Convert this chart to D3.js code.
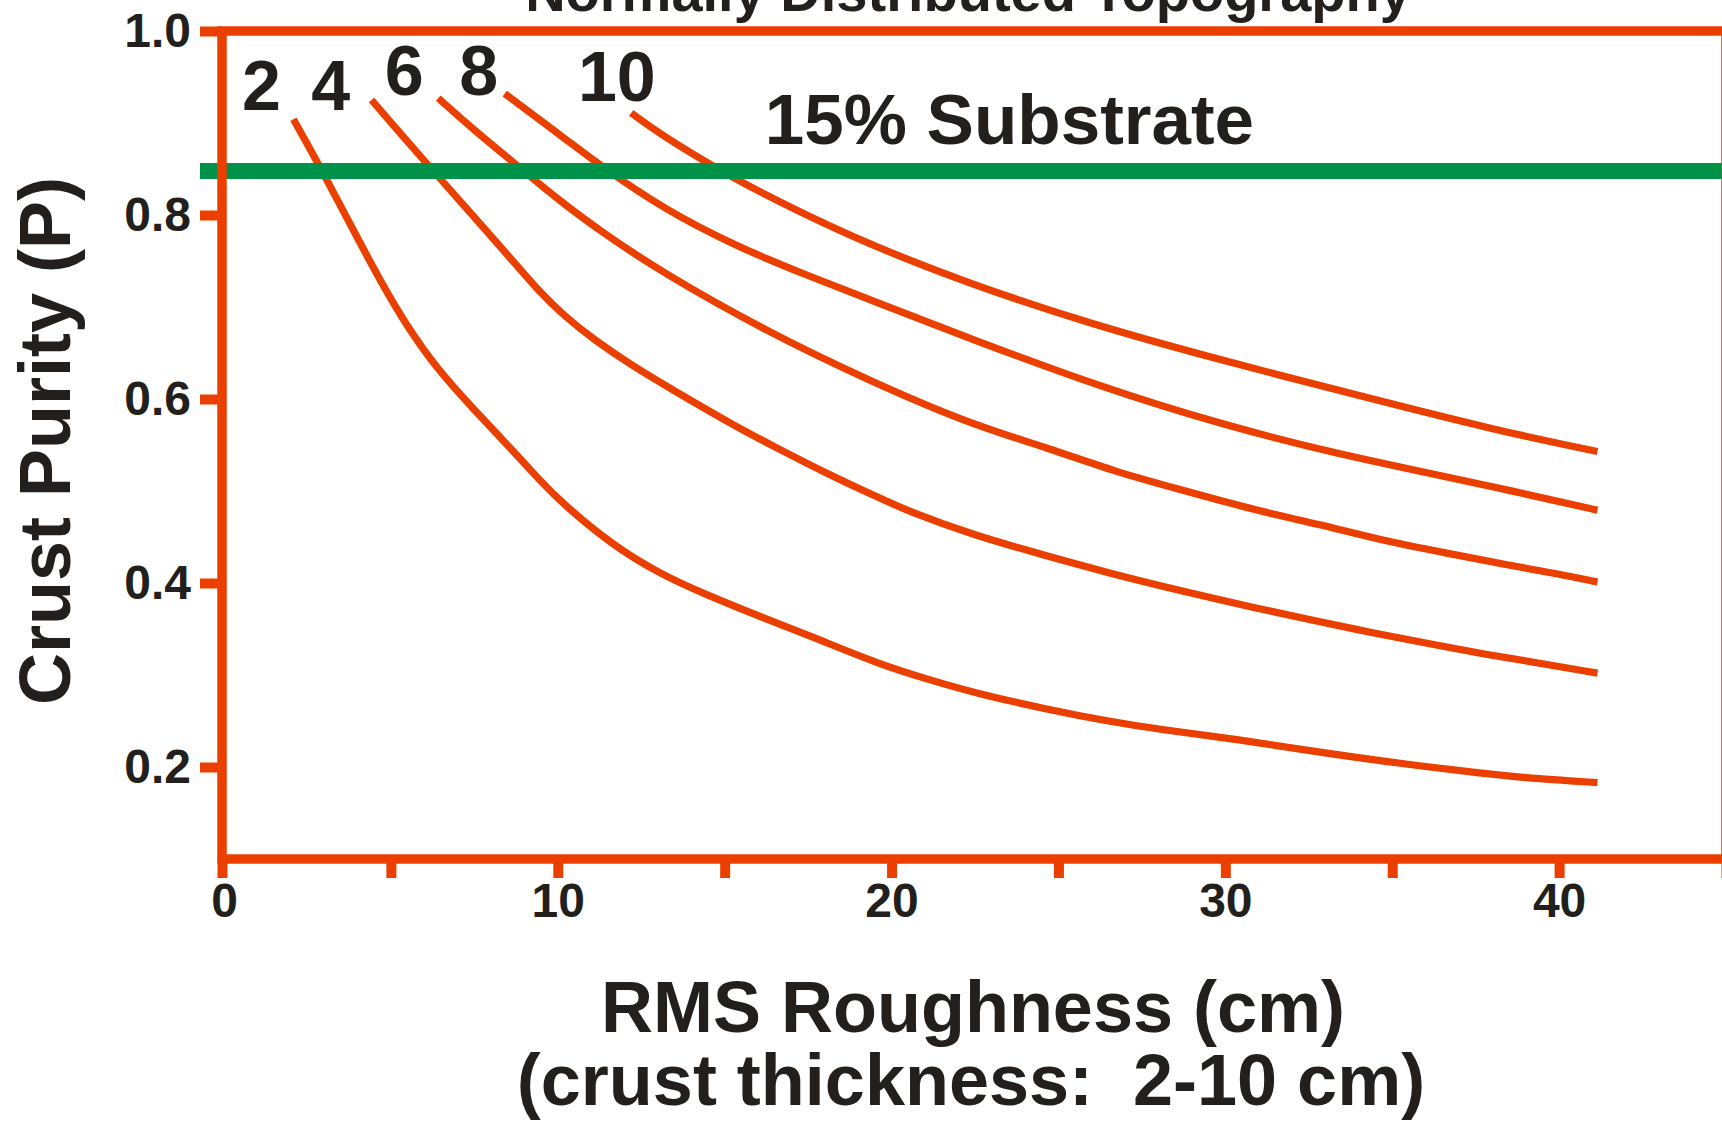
<!DOCTYPE html>
<html>
<head>
<meta charset="utf-8">
<script src="https://cdn.jsdelivr.net/npm/d3@7"></script>
<style>
  body { margin: 0; background: #fff; }
  svg { display: block; }
  text { font-family: "Liberation Sans", Arial, sans-serif; font-weight: bold; fill: #221f1c; }
</style>
</head>
<body>
<script>
// crust thickness of each curve (cm)
var thickness = [2, 4, 6, 8, 10]

// RMS roughness (cm) and crust purity
var rough2 = [2.08, 2.93, 3.85, 4.72, 5.5, 6.4, 7.5, 8.6, 9.5, 10.1, 11.6, 13.06, 14.33, 16.3, 17.6, 19.6, 21.3, 22.45, 24.6, 26.6, 28.0, 30.4, 32.8, 35.4, 37.7, 39.4, 41.15]
var purity2 = [0.904, 0.849, 0.785, 0.726, 0.678, 0.632, 0.588, 0.546, 0.51, 0.488, 0.442, 0.41, 0.389, 0.36, 0.342, 0.312, 0.293, 0.281, 0.263, 0.249, 0.241, 0.23, 0.216, 0.203, 0.193, 0.187, 0.183]

var rough4 = [4.42, 5.16, 6.02, 7.32, 8.61, 9.41, 10.2, 11.1, 12.2, 13.3, 15.29, 16.5, 18.0, 19.6, 20.5, 22.45, 24.6, 26.7, 28.5, 31.0, 32.8, 34.4, 36.1, 37.7, 39.4, 41.15]
var purity4 = [0.925, 0.894, 0.858, 0.805, 0.752, 0.718, 0.69, 0.664, 0.637, 0.613, 0.571, 0.548, 0.52, 0.493, 0.478, 0.452, 0.43, 0.409, 0.393, 0.372, 0.358, 0.346, 0.334, 0.323, 0.313, 0.302]

var rough6 = [6.42, 7.47, 8.51, 10.1, 11.3, 13.1, 16.28, 19.27, 22.26, 24.75, 26.7, 28.5, 31.0, 32.8, 34.6, 36.7, 38.4, 40.1, 41.15]
var purity6 = [0.927, 0.893, 0.862, 0.814, 0.782, 0.738, 0.673, 0.621, 0.574, 0.546, 0.521, 0.503, 0.478, 0.464, 0.447, 0.432, 0.42, 0.409, 0.401]

var rough8 = [8.41, 10.4, 11.3, 13.2, 15.29, 17.28, 19.77, 22.26, 26.25, 30.0, 33.3, 35.5, 38.0, 41.15]
var purity8 = [0.932, 0.878, 0.853, 0.806, 0.767, 0.737, 0.702, 0.667, 0.613, 0.571, 0.541, 0.524, 0.505, 0.479]

var rough10 = [12.2, 13.1, 14.79, 15.78, 18.77, 22.26, 26.0, 30.0, 34.3, 38.1, 41.15]
var purity10 = [0.911, 0.887, 0.85, 0.83, 0.776, 0.726, 0.681, 0.641, 0.601, 0.566, 0.543]

// where the thickness numbers sit (data units)
var labelRough = [1.12, 3.2, 5.4, 7.63, 11.77]
var labelPurity = [0.914, 0.914, 0.93, 0.93, 0.924]

var substratePurity = 0.85   // 15% substrate
var xTicks = [0, 5, 10, 15, 20, 25, 30, 35, 40, 45]
var yTicks = [0.2, 0.4, 0.6, 0.8, 1.0]

var orange = "#eb3f00"
var green = "#009248"

var width = 1722
var height = 1122

var svg = d3.select("body").append("svg")
  .attr("width", width)
  .attr("height", height)

var x = d3.scaleLinear().domain([0, 45]).range([224, 1726])
var y = d3.scaleLinear().domain([0.1, 1.0]).range([859, 31])

var series = [
  { t: 2, xs: rough2, ys: purity2 },
  { t: 4, xs: rough4, ys: purity4 },
  { t: 6, xs: rough6, ys: purity6 },
  { t: 8, xs: rough8, ys: purity8 },
  { t: 10, xs: rough10, ys: purity10 }
]

var line = d3.line()
  .x(function(d) { return x(d[0]) })
  .y(function(d) { return y(d[1]) })
  .curve(d3.curveBasis)

svg.append("g").selectAll("path")
  .data(series)
  .enter()
  .append("path")
  .attr("d", function(s) { return line(s.xs.map(function(v, i) { return [v, s.ys[i]] })) })
  .attr("fill", "none")
  .attr("stroke", orange)
  .attr("stroke-width", 7.2)

// 15% substrate line
svg.append("line")
  .attr("x1", 200)
  .attr("x2", width)
  .attr("y1", y(substratePurity) + 2)
  .attr("y2", y(substratePurity) + 2)
  .attr("stroke", green)
  .attr("stroke-width", 16)

// frame
svg.append("rect")
  .attr("x", x(0) - 2)
  .attr("y", y(1.0))
  .attr("width", x(45) - x(0) + 2)
  .attr("height", y(0.1) - y(1.0))
  .attr("fill", "none")
  .attr("stroke", orange)
  .attr("stroke-width", 9.5)

// axes
var xAxis = svg.append("g")
  .attr("transform", "translate(0," + y(0.1) + ")")
  .call(d3.axisBottom(x)
    .tickValues(xTicks)
    .tickSize(19)
    .tickPadding(5)
    .tickFormat(function(d) { return d % 10 === 0 && d < 45 ? d : "" }))
xAxis.select(".domain").remove()
xAxis.selectAll(".tick line").attr("stroke", orange).attr("stroke-width", 10)
xAxis.selectAll(".tick").filter(function(d) { return d === 0 }).select("line").attr("transform", "translate(-2,0)")
xAxis.selectAll(".tick text").attr("font-size", 48).attr("fill", "#221f1c")

var yAxis = svg.append("g")
  .attr("transform", "translate(" + (x(0) - 2) + ",0)")
  .call(d3.axisLeft(y)
    .tickValues(yTicks)
    .tickSize(22)
    .tickPadding(9)
    .tickFormat(d3.format(".1f")))
yAxis.select(".domain").remove()
yAxis.selectAll(".tick line").attr("stroke", orange).attr("stroke-width", 10)
yAxis.selectAll(".tick text").attr("font-size", 48).attr("fill", "#221f1c")
svg.selectAll(".tick text").attr("font-family", null)

// thickness labels
svg.append("g").selectAll("text")
  .data(thickness)
  .enter()
  .append("text")
  .attr("x", function(d, i) { return x(labelRough[i]) })
  .attr("y", function(d, i) { return y(labelPurity[i]) })
  .attr("text-anchor", "middle")
  .attr("font-size", 70)
  .text(function(d) { return d })

svg.append("text")
  .attr("x", x(16.2))
  .attr("y", y(0.877))
  .attr("font-size", 71)
  .text("15% Substrate")

// titles
svg.append("text")
  .attr("x", 968)
  .attr("y", 11)
  .attr("text-anchor", "middle")
  .attr("font-size", 56)
  .text("Normally Distributed Topography")

svg.append("text")
  .attr("x", 973)
  .attr("y", 1032)
  .attr("text-anchor", "middle")
  .attr("font-size", 72)
  .text("RMS Roughness (cm)")

svg.append("text")
  .attr("x", 971)
  .attr("y", 1105)
  .attr("text-anchor", "middle")
  .attr("font-size", 72)
  .attr("xml:space", "preserve")
  .style("white-space", "pre")
  .text("(crust thickness:  2-10 cm)")

svg.append("text")
  .attr("transform", "translate(70,441) rotate(-90)")
  .attr("text-anchor", "middle")
  .attr("font-size", 72)
  .text("Crust Purity (P)")
</script>
</body>
</html>
